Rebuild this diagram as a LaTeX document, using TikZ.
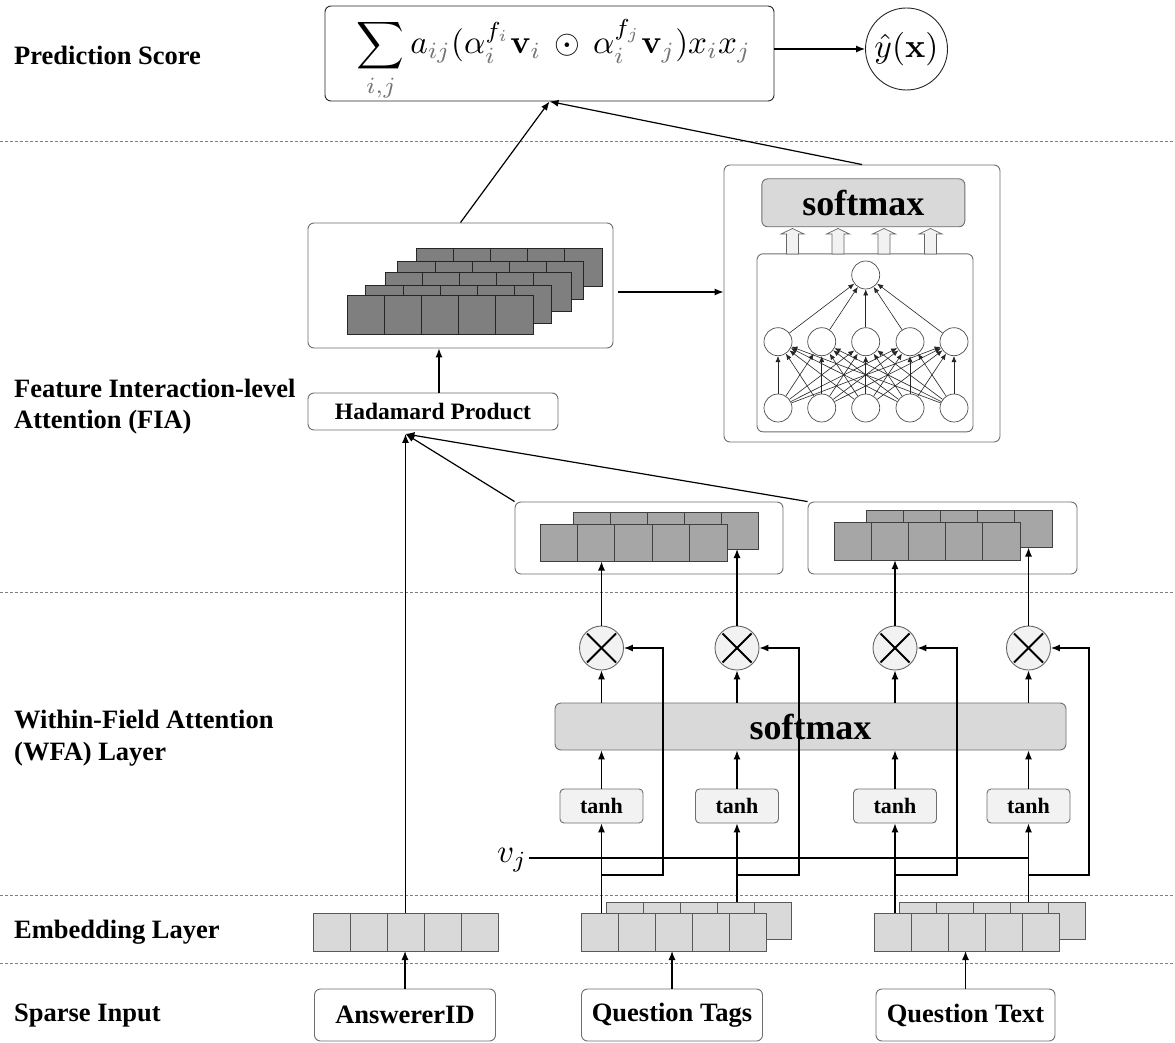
\documentclass[tikz,border=0pt]{standalone}
\usepackage[no-math]{fontspec}
\setmainfont{Liberation Serif}
\usepackage{graphicx}
\usetikzlibrary{arrows.meta,calc}
\definecolor{boxgray}{HTML}{6E6E6E}
\definecolor{sepgray}{HTML}{808080}
\definecolor{darkcell}{HTML}{7F7F7F}
\definecolor{midcell}{HTML}{A6A6A6}
\definecolor{lightcell}{HTML}{D9D9D9}
\definecolor{smfill}{HTML}{D9D9D9}
\definecolor{palefill}{HTML}{F2F2F2}
\newcommand\lblfont{\bfseries\fontsize{26.5}{30}\selectfont}
\newcommand\hadfont{\bfseries\fontsize{23.5}{26}\selectfont}
\newcommand\tanhfont{\bfseries\fontsize{22}{24}\selectfont}
\newcommand\smfont{\bfseries\fontsize{36}{40}\selectfont}
\newcommand\gs[1]{{\color{black!55}#1}}
\newcommand\cellrow[7]{%
  \node[draw=#7, fill=#6, line width=0.8pt, anchor=north west, inner sep=0pt, outer sep=0pt,
        minimum width=#4pt, minimum height=#5pt] (#1) at (#2,#3) {};
  \foreach \k in {1,2,3,4}{\draw[draw=#7, line width=0.8pt]
     ($(#1.north west)!\k/5!(#1.north east)$) -- ($(#1.south west)!\k/5!(#1.south east)$);}
}
\begin{document}
\begin{tikzpicture}[x=1pt,y=-1pt,
  box/.style={draw=boxgray, line width=0.9pt, rounded corners=6pt, fill=white, inner sep=0pt},
  conn/.style={draw=black, line width=1.2pt, -{Latex[length=9pt,width=7pt]}},
  plain/.style={draw=black, line width=1.2pt},
  sepline/.style={draw=sepgray, line width=0.9pt, dash pattern=on 3pt off 2pt},
  lbl/.style={anchor=base west, inner sep=0pt, font=\lblfont},
  neuron/.style={circle, draw=black!70, fill=white, line width=0.7pt, minimum size=28pt, inner sep=0pt},
  nnconn/.style={draw=black!85, line width=0.6pt, -{Latex[length=6pt,width=5pt]}},
  mulc/.style={circle, draw=black!60, fill=palefill, line width=0.9pt, minimum size=44pt, inner sep=0pt},
  tanhbox/.style={box, fill=palefill, rounded corners=4pt, minimum width=83pt, minimum height=34pt, font=\tanhfont},
  smbx/.style={box, fill=smfill, font=\smfont},
  inbox/.style={box, minimum width=181pt, minimum height=52pt, font=\lblfont}
]
\useasboundingbox[fill=white] (0,0) rectangle (1175,1043);

% separators
\draw[sepline] (0,141) -- (1175,141);
\draw[sepline] (0,592) -- (1175,592);
\draw[sepline] (0,895) -- (1175,895);
\draw[sepline] (0,963) -- (1175,963);

% left labels
\node[lbl] (lPS) at (14,65) {Prediction Score};
\node[lbl] (lFIA1) at (14,397) {Feature Interaction-level};
\node[lbl] (lFIA2) at (14,428) {Attention (FIA)};
\node[lbl] (lWFA1) at (14,728) {Within-Field Attention};
\node[lbl] (lWFA2) at (14,760) {(WFA) Layer};
\node[lbl] (lEmb) at (14,938) {Embedding Layer};
\node[lbl] (lSp) at (14,1021) {Sparse Input};

% prediction
\node[box, draw=black!85, minimum width=449pt, minimum height=95pt] (pred) at (549.5,53.5) {};
\node[inner sep=0pt] (formula) at (554,60) {\resizebox{394pt}{!}{$\displaystyle\sum_{\gs{i,j}} a_{\gs{ij}}(\alpha_{\gs i}^{f_{\gs i}}\mathbf{v}_{\gs i}\,\odot\,\alpha_{\gs i}^{f_{\gs j}}\mathbf{v}_{\gs j})x_{\gs i}x_{\gs j}$}};
\node[circle, draw=black!85, line width=0.9pt, minimum size=82pt, inner sep=0pt] (yhat) at (906.5,49) {\resizebox{64pt}{!}{$\hat{y}(\mathbf{x})$}};
\draw[conn] (yhat.west -| pred.east) -- (yhat.west);

% FIA stack box
\node[box, minimum width=305pt, minimum height=125pt] (fiabox) at (460.5,285.5) {};
\cellrow{fL5}{416}{248.3}{186}{38.3}{darkcell}{black!85}
\cellrow{fL4}{397.7}{261}{186}{38.3}{darkcell}{black!85}
\cellrow{fL3}{385}{272.7}{186}{38.3}{darkcell}{black!85}
\cellrow{fL2}{365.7}{285}{186}{38.3}{darkcell}{black!85}
\cellrow{fL1}{347}{295.7}{186}{38.3}{darkcell}{black!85}

\node[box, minimum width=250pt, minimum height=37pt, font=\hadfont] (had) at (433,411.5) {Hadamard Product};

% attention network box
\node[box, minimum width=276pt, minimum height=277pt] (smbox) at (862,303.5) {};
\node[smbx, minimum width=203pt, minimum height=48pt] (smx) at (863.3,202.8) {softmax};
\node[box, minimum width=216pt, minimum height=178pt] (nnbox) at (865,342.8) {};
\foreach \cx in {792.5,838,884,930.5}{
  \filldraw[fill=palefill, draw=black!60, line width=0.7pt]
    (\cx-6,254) -- (\cx-6,234) -- (\cx-11.5,234) -- (\cx,228.5) -- (\cx+11.5,234) -- (\cx+6,234) -- (\cx+6,254) -- cycle;
}
\foreach \i/\x in {1/778,2/821.7,3/865.7,4/910,5/954}{
  \node[neuron] (h\i) at (\x,341.7) {};
  \node[neuron] (b\i) at (\x,408) {};
}
\node[neuron] (n0) at (865.7,275) {};
\foreach \i in {1,...,5}{
  \draw[nnconn] (h\i) -- (n0);
  \foreach \j in {1,...,5}{\draw[nnconn] (b\i) -- (h\j);}
}

% FIA connectors
\draw[conn] (fiabox.north) -- (pred.south);
\draw[conn] (smbox.north) -- (pred.south);
\path ([shift={(5,6.5)}]fiabox.east) coordinate (fiaout);
\draw[conn] (fiaout) -- (fiaout -| smbox.west);
\path ([xshift=6pt]had.north) coordinate (hadtop);
\draw[conn] (hadtop) -- (hadtop |- fiabox.south);

% WFA output boxes
\node[box, minimum width=268pt, minimum height=72pt] (wfaL) at (649,538) {};
\node[box, minimum width=269pt, minimum height=72pt] (wfaR) at (942.5,538) {};
\cellrow{wLb}{573}{512}{185}{37}{midcell}{black!75}
\cellrow{wLf}{540}{524}{187}{37.5}{midcell}{black!75}
\cellrow{wRb}{866}{510.5}{186}{37}{midcell}{black!75}
\cellrow{wRf}{834}{522.7}{186}{37.5}{midcell}{black!75}

% multipliers
\foreach \i/\x in {1/601.5,2/737,3/895,4/1028.5}{
  \node[mulc] (mul\i) at (\x,648) {};
  \draw[line width=1.8pt] ([shift={(-14.5,-14.5)}]mul\i.center) -- ([shift={(14.5,14.5)}]mul\i.center);
  \draw[line width=1.8pt] ([shift={(-14.5,14.5)}]mul\i.center) -- ([shift={(14.5,-14.5)}]mul\i.center);
}
\draw[conn] (mul1.north) -- (mul1.north |- wLf.south);
\draw[conn] (mul2.north) -- (mul2.north |- wLb.south);
\draw[conn] (mul3.north) -- (mul3.north |- wRf.south);
\draw[conn] (mul4.north) -- (mul4.north |- wRb.south);

% WFA softmax
\node[smbx, minimum width=511pt, minimum height=47pt] (smw) at (810.5,726.5) {softmax};
\foreach \i in {1,...,4}{\draw[conn] (mul\i.south |- smw.north) -- (mul\i.south);}

% tanh
\node[tanhbox] (t1) at (601.5,806) {tanh};
\node[tanhbox] (t2) at (737,806) {tanh};
\node[tanhbox] (t3) at (895,806) {tanh};
\node[tanhbox] (t4) at (1028.5,806) {tanh};
\foreach \i in {1,...,4}{\draw[conn] (t\i.north) -- (t\i.north |- smw.south);}

% embeddings
\cellrow{emA}{313}{913}{185}{38}{lightcell}{black!65}
\cellrow{qtB}{606}{902}{185}{37}{lightcell}{black!65}
\cellrow{qtF}{581}{913}{185}{38}{lightcell}{black!65}
\cellrow{qxB}{899.5}{902}{185.5}{37}{lightcell}{black!65}
\cellrow{qxF}{874}{913}{185}{38}{lightcell}{black!65}

% v_j
\node[inner sep=2pt] (vj) at (512,860) {\scalebox{3.3}{$v_j$}};
\draw[plain] (vj.east |- 0,858) -- (t4.south |- 0,858);

% embedding to tanh and branches
\coordinate (br1) at (663,875);
\coordinate (br2) at (799,875);
\coordinate (br3) at (957,875);
\coordinate (br4) at (1089,875);
\draw[conn] (qtF.north -| t1) -- (t1.south);
\draw[conn] (qtB.north -| t2) -- (t2.south);
\draw[conn] (qxF.north -| t3) -- (t3.south);
\draw[conn] (qxB.north -| t4) -- (t4.south);
\draw[conn] (qtF.north -| t1) |- (br1) |- (mul1.east);
\draw[conn] (qtB.north -| t2) |- (br2) |- (mul2.east);
\draw[conn] (qxF.north -| t3) |- (br3) |- (mul3.east);
\draw[conn] (qxB.north -| t4) |- (br4) |- (mul4.east);

% to Hadamard
\path (emA.north |- had.south) ++(0,3.5) coordinate (hadin);
\draw[conn] (emA.north) -- (hadin);
\draw[conn] (wfaL.north west) -- (hadin);
\draw[conn] (wfaR.north west) -- (hadin);

% sparse inputs
\node[inbox] (sA) at (405,1015) {AnswererID};
\node[inbox] (sT) at (672,1015) {Question Tags};
\node[inbox, minimum width=179pt] (sX) at (965.5,1015) {Question Text};
\draw[conn] (sA.north) -- (sA.north |- emA.south);
\draw[conn] (sT.north) -- (sT.north |- qtF.south);
\draw[conn] (sX.north) -- (sX.north |- qxF.south);
\end{tikzpicture}
\end{document}
